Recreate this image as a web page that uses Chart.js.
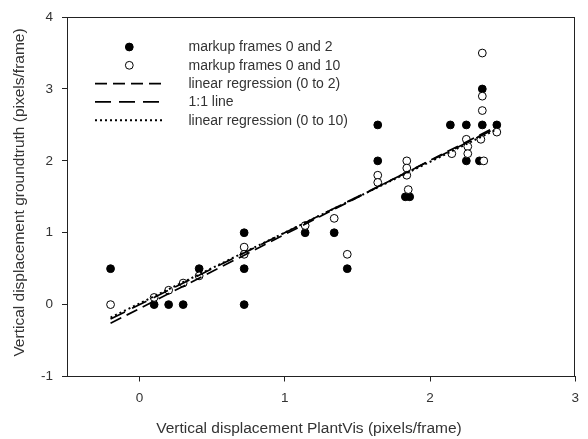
<!DOCTYPE html>
<html><head><meta charset="utf-8">
<script src="https://cdn.jsdelivr.net/npm/chart.js@4"></script>
<style>html,body{margin:0;padding:0;background:#fff}#wrap{width:588px;height:439px}</style>
</head><body><div id="wrap"><canvas id="c" width="588" height="439"></canvas></div>
<script>
// ---- data ----
const seriesLabels = ["markup frames 0 and 2", "markup frames 0 and 10", "linear regression (0 to 2)", "1:1 line", "linear regression (0 to 10)"];
const frames02X = [-0.2, 0.1, 0.2, 0.3, 0.41, 0.72, 0.72, 0.72, 1.14, 1.34, 1.43, 1.64, 1.64, 1.83, 1.86, 2.14, 2.25, 2.36, 2.46, 2.36, 2.25, 2.34];
const frames02Y = [0.5, 0, 0, 0, 0.5, 1.0, 0.5, 0, 1.0, 1.0, 0.5, 2.5, 2.0, 1.5, 1.5, 2.5, 2.5, 2.5, 2.5, 3.0, 2.0, 2.0];
const frames010X = [-0.2, 0.1, 0.2, 0.3, 0.41, 0.72, 0.72, 1.14, 1.34, 1.43, 1.64, 1.64, 1.84, 1.84, 1.84, 1.85, 2.15, 2.25, 2.26, 2.26, 2.36, 2.36, 2.36, 2.35, 2.46, 2.37];
const frames010Y = [0, 0.1, 0.2, 0.3, 0.4, 0.8, 0.7, 1.1, 1.2, 0.7, 1.8, 1.7, 2.0, 1.9, 1.8, 1.6, 2.1, 2.3, 2.2, 2.1, 3.5, 2.9, 2.7, 2.3, 2.4, 2.0];
const lineX = [-0.2, 2.45];
const reg02Y = [-0.26, 2.47];
const oneToOneY = [-0.2, 2.45];
const reg010Y = [-0.18, 2.43];
const xTickValues = [0, 1, 2, 3];
const yTickValues = [-1, 0, 1, 2, 3, 4];
const xTitle = "Vertical displacement PlantVis (pixels/frame)";
const yTitle = "Vertical displacement groundtruth (pixels/frame)";

const pts = (xs, ys) => xs.map((x, i) => ({x: x, y: ys[i]}));
const FONT = "'Liberation Sans', Arial, sans-serif";
const TXT = '#333';
const AX = '#222';

const frameLegendTitles = {
  id: 'frameLegendTitles',
  afterDraw(chart) {
    const ctx = chart.ctx, a = chart.chartArea;
    ctx.save();
    ctx.strokeStyle = AX; ctx.lineWidth = 1;
    ctx.strokeRect(Math.round(a.left) + 0.5, Math.round(a.top) + 0.5, Math.round(a.right - a.left) - 1, Math.round(a.bottom - a.top));
    // axis titles
    ctx.fillStyle = TXT; ctx.font = "15.5px " + FONT;
    ctx.textAlign = 'center'; ctx.textBaseline = 'middle';
    ctx.fillText(xTitle, 309, 429);
    ctx.save(); ctx.translate(20, 192.5); ctx.rotate(-Math.PI / 2);
    ctx.fillText(yTitle, 0, 0); ctx.restore();
    // legend
    const ds = chart.data.datasets;
    const x0 = 95, x1 = 165, xm = 129.3, xt = 188.5, y0 = 47, dy = 18.3;
    ctx.font = "14px " + FONT; ctx.textAlign = 'left';
    ds.forEach((d, i) => {
      const y = y0 + i * dy;
      if (d.showLine) {
        ctx.save();
        ctx.strokeStyle = d.borderColor; ctx.lineWidth = d.borderWidth;
        ctx.setLineDash(d.borderDash || []);
        ctx.beginPath(); ctx.moveTo(x0, y); ctx.lineTo(x1, y); ctx.stroke();
        ctx.restore();
      } else {
        ctx.save();
        ctx.beginPath(); ctx.arc(xm, y, d.pointRadius, 0, Math.PI * 2);
        ctx.fillStyle = d.pointBackgroundColor; ctx.fill();
        ctx.strokeStyle = d.pointBorderColor; ctx.lineWidth = d.pointBorderWidth; ctx.stroke();
        ctx.restore();
      }
      ctx.fillStyle = TXT;
      ctx.fillText(d.label, xt, y + 0.5);
    });
    ctx.restore();
  }
};

new Chart(document.getElementById('c'), {
  type: 'scatter',
  data: {
    datasets: [
      {label: seriesLabels[0], data: pts(frames02X, frames02Y), order: 3, pointRadius: 3.9, pointBackgroundColor: '#000', pointBorderColor: '#000', pointBorderWidth: 1, showLine: false},
      {label: seriesLabels[1], data: pts(frames010X, frames010Y), order: 2, pointRadius: 3.9, pointBackgroundColor: '#fff', pointBorderColor: '#000', pointBorderWidth: 1, showLine: false},
      {label: seriesLabels[2], data: pts(lineX, reg02Y), order: 1, showLine: true, pointRadius: 0, borderColor: '#000', borderWidth: 1.7, borderDash: [12, 6], fill: false},
      {label: seriesLabels[3], data: pts(lineX, oneToOneY), order: 1, showLine: true, pointRadius: 0, borderColor: '#000', borderWidth: 1.7, borderDash: [16, 8], fill: false},
      {label: seriesLabels[4], data: pts(lineX, reg010Y), order: 0, showLine: true, pointRadius: 0, borderColor: '#000', borderWidth: 2, borderDash: [2, 3], fill: false}
    ]
  },
  options: {
    responsive: false, animation: false,
    layout: {padding: {top: 15.5, right: 7, left: 0, bottom: 0}},
    plugins: {legend: {display: false}, tooltip: {enabled: false}},
    scales: {
      x: {
        type: 'linear', min: -0.5, max: 3,
        afterFit(s) { s.height = 62.5; },
        afterBuildTicks(s) { s.ticks = xTickValues.map(v => ({value: v})); },
        grid: {display: true, drawOnChartArea: false, drawTicks: true, tickLength: 5, color: AX, tickColor: AX},
        border: {display: true, color: AX, width: 1},
        ticks: {padding: 9, color: TXT, font: {family: FONT, size: 13.5}, maxRotation: 0, callback: v => String(v)},
        title: {display: false, text: xTitle}
      },
      y: {
        type: 'linear', min: -1, max: 4,
        afterFit(s) { s.width = 67; },
        afterBuildTicks(s) { s.ticks = yTickValues.map(v => ({value: v})); },
        grid: {display: true, drawOnChartArea: false, drawTicks: true, tickLength: 5, color: AX, tickColor: AX},
        border: {display: true, color: AX, width: 1},
        ticks: {padding: 9, color: TXT, font: {family: FONT, size: 13.5}, callback: v => String(v)},
        title: {display: false, text: yTitle}
      }
    }
  },
  plugins: [frameLegendTitles]
});
</script></body></html>
